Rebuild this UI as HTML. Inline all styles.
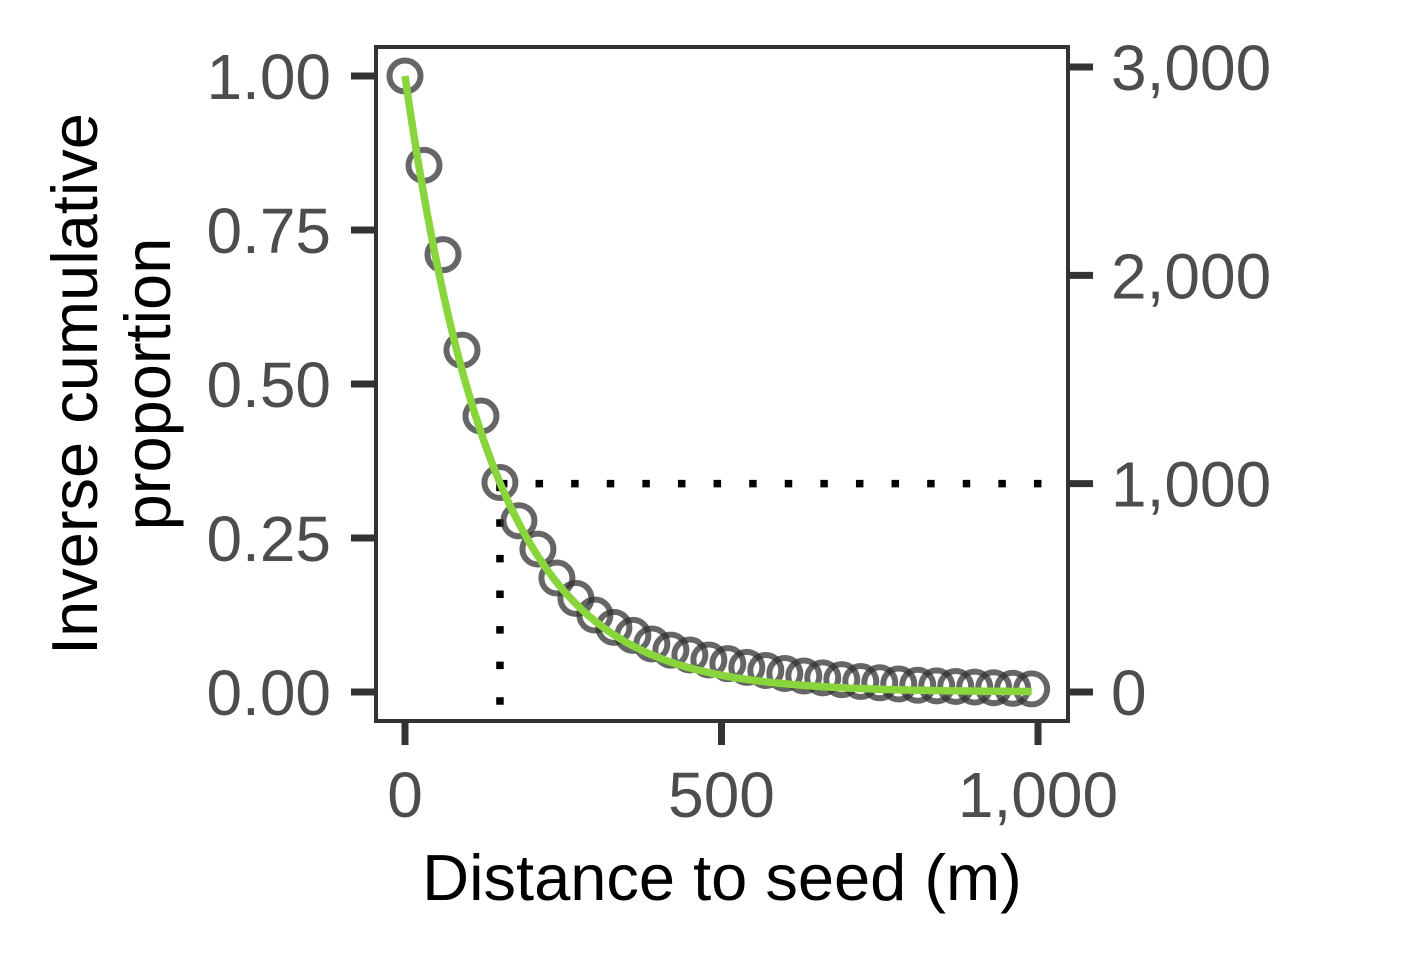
<!DOCTYPE html>
<html><head><meta charset="utf-8"><style>
html,body{margin:0;padding:0;background:#fff;}
svg text{font-family:"Liberation Sans",Arial,sans-serif;}
</style></head><body>
<svg id="chart" width="1410" height="960" viewBox="0 0 1410 960" xmlns="http://www.w3.org/2000/svg">
<rect x="376" y="47" width="692" height="674" fill="#fff" stroke="#333" stroke-width="4"/>
<g id="marks"></g>
<g id="axes"></g>
<text x="722" y="900" font-size="65" text-anchor="middle" fill="#000">Distance to seed (m)</text>
<text transform="translate(97,384) rotate(-90)" font-size="65" text-anchor="middle" fill="#000"><tspan x="0" dy="0">Inverse cumulative</tspan><tspan x="0" dy="73">proportion</tspan></text>
</svg>
<script>
const distances=[0,30,60,90,120,150,180,210,240,270,300,330,360,390,420,450,480,510,540,570,600,630,660,690,720,750,780,810,840,870,900,930,960,990];
const proportions=[1.00,0.855,0.71,0.555,0.448,0.34,0.278,0.232,0.185,0.152,0.125,0.105,0.092,0.078,0.068,0.06,0.052,0.046,0.040,0.035,0.030,0.026,0.023,0.020,0.017,0.015,0.013,0.011,0.010,0.009,0.008,0.007,0.006,0.005];
const fitRate=0.0072;
const fitRange=[0,990];
const xTicks=[0,500,1000];
const xTickLabels=["0","500","1,000"];
const yTicks=[0,0.25,0.5,0.75,1];
const yTickLabels=["0.00","0.25","0.50","0.75","1.00"];
const y2Ticks=[0,1000,2000,3000];
const y2TickLabels=["0","1,000","2,000","3,000"];
const refDistance=150;
const refCount=1000;

const NS="http://www.w3.org/2000/svg";
const xS=v=>405+v*(1038-405)/1000;
const yS=v=>692-v*616;
const y2S=v=>692-v*(692-67)/3000;
function mk(tag,attrs,parent){const e=document.createElementNS(NS,tag);for(const k in attrs)e.setAttribute(k,attrs[k]);parent.appendChild(e);return e;}
const marks=document.getElementById('marks'),axes=document.getElementById('axes');

const refY=y2S(refCount),refX=xS(refDistance);
let h=mk('line',{x1:refX,y1:refY,x2:1042,y2:refY,stroke:'#000','stroke-width':7.5,'stroke-dasharray':'7.5 28.1'},marks);


let v=mk('line',{x1:refX,y1:refY,x2:refX,y2:708,stroke:'#000','stroke-width':7.5,'stroke-dasharray':'7.5 28.1'},marks);



distances.forEach((d,i)=>{
  const c=mk('circle',{cx:xS(d),cy:yS(proportions[i]),r:15.5,fill:'none',stroke:'#333','stroke-opacity':0.75,'stroke-width':6},marks);
  
  
});
let pts=[];
for(let i=0;i<=200;i++){const d=fitRange[0]+(fitRange[1]-fitRange[0])*i/200;pts.push(xS(d).toFixed(1)+','+yS(Math.exp(-fitRate*d)).toFixed(1));}
const fl=mk('polyline',{points:pts.join(' '),fill:'none',stroke:'#88d63c','stroke-width':7.5},marks);



xTicks.forEach((t,i)=>{
  const l=mk('line',{x1:xS(t),y1:721,x2:xS(t),y2:745,stroke:'#333','stroke-width':7},axes);
  
  
  const tx=mk('text',{x:xS(t),y:817,'font-size':64,'text-anchor':'middle',fill:'#4d4d4d'},axes);
  tx.textContent=xTickLabels[i];
  
  
});
yTicks.forEach((t,i)=>{
  const l=mk('line',{x1:351,y1:yS(t),x2:376,y2:yS(t),stroke:'#333','stroke-width':7},axes);
  
  
  const tx=mk('text',{x:331,y:yS(t)+23,'font-size':64,'text-anchor':'end',fill:'#4d4d4d'},axes);
  tx.textContent=yTickLabels[i];
  
  
});
y2Ticks.forEach((t,i)=>{
  const l=mk('line',{x1:1068,y1:y2S(t),x2:1093,y2:y2S(t),stroke:'#333','stroke-width':7},axes);
  
  
  const tx=mk('text',{x:1111,y:y2S(t)+23,'font-size':64,'text-anchor':'start',fill:'#4d4d4d'},axes);
  tx.textContent=y2TickLabels[i];
  
  
});
</script>
</body></html>
